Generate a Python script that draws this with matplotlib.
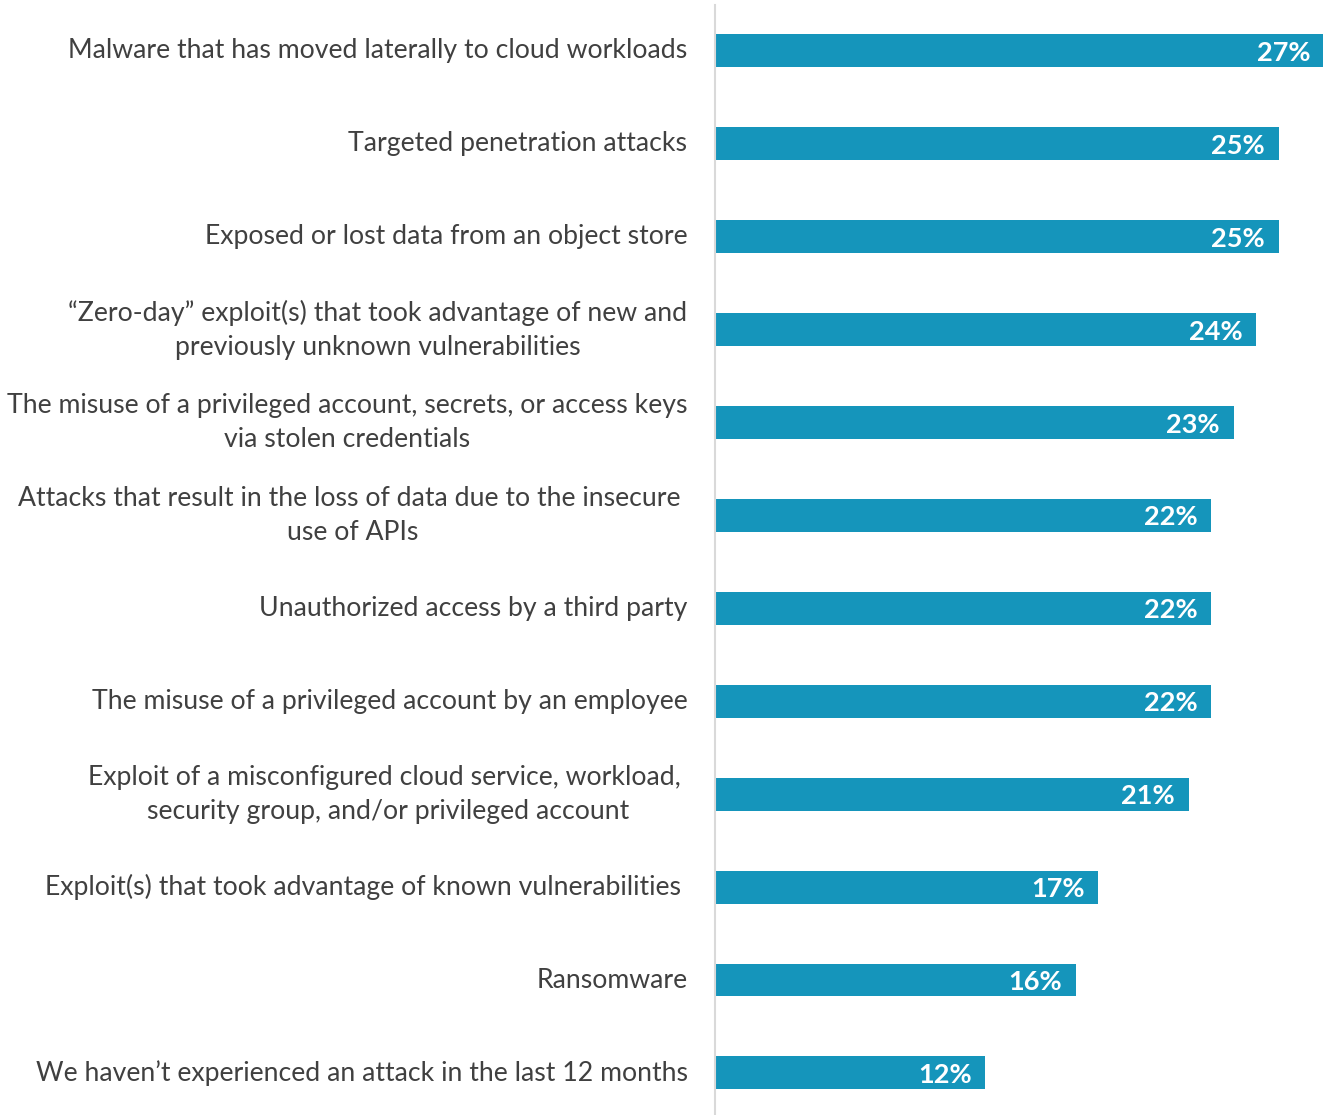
import matplotlib.pyplot as plt
from matplotlib.transforms import offset_copy

plt.rcParams['font.family'] = ['Lato', 'DejaVu Sans']

# 回答カテゴリと割合
labels = [
    'Malware that has moved laterally to cloud workloads',
    'Targeted penetration attacks',
    'Exposed or lost data from an object store',
    '\u201cZero-day\u201d exploit(s) that took advantage of new and\npreviously unknown vulnerabilities',
    'The misuse of a privileged account, secrets, or access keys\nvia stolen credentials',
    'Attacks that result in the loss of data due to the insecure \nuse of APIs',
    'Unauthorized access by a third party',
    'The misuse of a privileged account by an employee',
    'Exploit of a misconfigured cloud service, workload, \nsecurity group, and/or privileged account',
    'Exploit(s) that took advantage of known vulnerabilities ',
    'Ransomware',
    'We haven\u2019t experienced an attack in the last 12 months',
]
values = [27, 25, 25, 24, 23, 22, 22, 22, 21, 17, 16, 12]

bar_color = '#1595BB'
text_color = '#404040'

fig = plt.figure(figsize=(13.23, 11.15), dpi=100)
ax = fig.add_axes([714.5 / 1323, 0, 608.5 / 1323, 1 - 4.5 / 1115])

pos = list(range(len(values)))
ax.barh(pos, values, height=0.355, color=bar_color)
ax.set_xlim(0, 26.95)
ax.set_ylim(11.453, -0.5)

# 値ラベル
for y, v in zip(pos, values):
    tr = offset_copy(ax.transData, fig=fig, x=-14, y=-2, units='dots')
    ax.text(v, y, f'{v}%', transform=tr, ha='right', va='center',
            color='white', fontsize=19.5, fontweight='bold')

# カテゴリラベル
for y, lab in zip(pos, labels):
    tr = offset_copy(ax.get_yaxis_transform(), fig=fig, x=-27, y=0, units='dots')
    ax.text(0, y, lab, transform=tr, ha='right', va='center',
            multialignment='center', color=text_color, fontsize=19.2,
            linespacing=1.45)

ax.set_xticks([])
ax.set_yticks([])
for s in ['top', 'right', 'bottom']:
    ax.spines[s].set_visible(False)
ax.spines['left'].set_color('#D9D9D9')
ax.spines['left'].set_linewidth(1.5)

fig.savefig('out.png', dpi=100)
